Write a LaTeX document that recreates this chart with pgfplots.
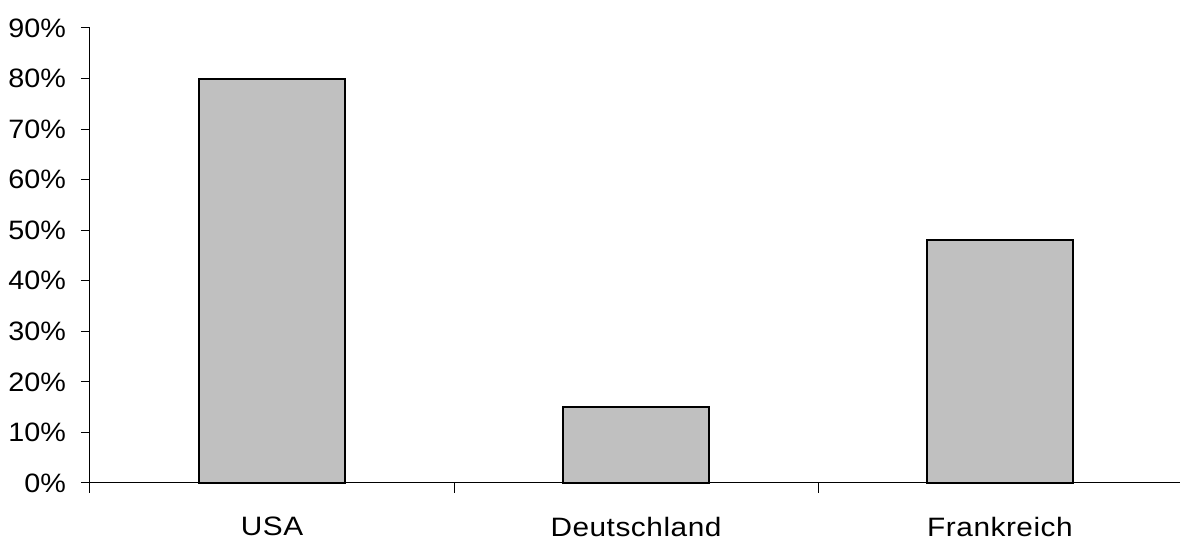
\documentclass[border=0pt]{standalone}
\usepackage{pgfplots}
\pgfplotsset{compat=1.18}
\usepackage{fontspec}
\setmainfont{Liberation Sans}
\newfontfamily\xlab[FakeStretch=1.12, LetterSpace=2]{Liberation Sans}
\newfontfamily\ylab[FakeStretch=1.08]{Liberation Sans}
\definecolor{bargray}{HTML}{C0C0C0}
\begin{document}
\begin{tikzpicture}
\begin{axis}[
  scale only axis,
  width=546pt, height=227.5pt,
  xmin=0, xmax=3, ymin=0, ymax=90,
  axis x line*=bottom, axis y line*=left,
  axis line style={line width=0.5pt, -},
  tick label style={font=\fontsize{13.3pt}{15pt}\selectfont},
  xtick={0.5,1.5,2.5},
  xticklabels={USA,Deutschland,Frankreich},
  major x tick style={draw=none},
  minor xtick={0,1,2,3},
  minor x tick style={line width=0.5pt, black},
  minor tick length=5pt,
  x tick label style={yshift=-9pt, font=\xlab\fontsize{13.3pt}{15pt}\selectfont},
  ytick={0,10,...,90},
  yticklabel={\pgfmathprintnumber{\tick}\%},
  y tick style={line width=0.5pt, black},
  major tick length=4.5pt,
  tick align=outside,
  y tick label style={xshift=-4pt, font=\ylab\fontsize{13.3pt}{15pt}\selectfont},
  /pgf/number format/assume math mode=true,
  ybar, bar width=73pt,
  bar shift=0pt,
  clip=false,
]
\addplot[fill=bargray, draw=black, line width=1pt] coordinates {(0.5,80) (1.5,15) (2.5,48)};
\end{axis}
\pgfresetboundingbox
\path[use as bounding box] (-45pt,-31pt) rectangle (545pt,241.5pt);
\end{tikzpicture}
\end{document}
